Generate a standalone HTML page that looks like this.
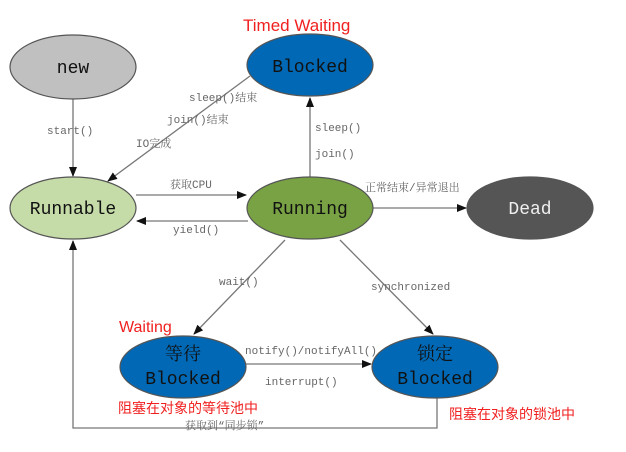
<!DOCTYPE html>
<html><head><meta charset="utf-8"><style>
html,body{margin:0;padding:0;background:#fff;}
svg{display:block;}
.lbl{font-family:"Liberation Mono","Noto Serif CJK SC",monospace;font-size:11px;fill:#666;}
.node{font-family:"Liberation Mono","Noto Serif CJK SC",monospace;font-size:18px;fill:#111;text-anchor:middle;}
.red{font-family:"Liberation Sans","Noto Sans CJK SC",sans-serif;fill:#f02020;}
</style></head><body>
<svg width="626" height="452" viewBox="0 0 626 452" xmlns="http://www.w3.org/2000/svg">
<defs><marker id="a" markerWidth="10" markerHeight="8" refX="9" refY="4" orient="auto" markerUnits="userSpaceOnUse"><path d="M0,0 L10,4 L0,8 z" fill="#111"/></marker></defs>
<g stroke="#777" stroke-width="1.3" fill="none">
<line x1="73" y1="99" x2="73" y2="176" marker-end="url(#a)"/>
<line x1="250" y1="76" x2="108" y2="181" marker-end="url(#a)"/>
<line x1="310" y1="177" x2="310" y2="98" marker-end="url(#a)"/>
<line x1="136" y1="195" x2="246" y2="195" marker-end="url(#a)"/>
<line x1="248" y1="221" x2="137" y2="221" marker-end="url(#a)"/>
<line x1="373" y1="208" x2="466" y2="208" marker-end="url(#a)"/>
<line x1="285" y1="240" x2="194" y2="334" marker-end="url(#a)"/>
<line x1="340" y1="240" x2="433" y2="334" marker-end="url(#a)"/>
<line x1="246" y1="364" x2="371" y2="364" marker-end="url(#a)"/>
<polyline points="437,398 437,428 73,428 73,241" marker-end="url(#a)"/>
</g>
<g stroke="#555" stroke-width="1.2">
<ellipse cx="73" cy="67" rx="63" ry="32" fill="#c0c0c0"/>
<ellipse cx="310" cy="65" rx="63" ry="31" fill="#0068b5"/>
<ellipse cx="73" cy="208" rx="63" ry="31" fill="#c5dba8"/>
<ellipse cx="310" cy="208" rx="63" ry="31" fill="#78a244"/>
<ellipse cx="530" cy="208" rx="63" ry="31" fill="#555"/>
<ellipse cx="183" cy="367" rx="63" ry="31" fill="#0068b5"/>
<ellipse cx="435" cy="367" rx="63" ry="31" fill="#0068b5"/>
</g>
<text class="node" x="73" y="73">new</text>
<text class="node" x="310" y="72">Blocked</text>
<text class="node" x="73" y="214">Runnable</text>
<text class="node" x="310" y="214">Running</text>
<text class="node" x="530" y="214" style="fill:#eee">Dead</text>
<text class="node" x="183" y="360">等待</text>
<text class="node" x="183" y="384">Blocked</text>
<text class="node" x="435" y="360">锁定</text>
<text class="node" x="435" y="384">Blocked</text>
<text class="lbl" x="47" y="134">start()</text>
<text class="lbl" x="189" y="101">sleep()结束</text>
<text class="lbl" x="167" y="123">join()结束</text>
<text class="lbl" x="136" y="147">IO完成</text>
<text class="lbl" x="315" y="131">sleep()</text>
<text class="lbl" x="315" y="157">join()</text>
<text class="lbl" x="170" y="188">获取CPU</text>
<text class="lbl" x="173" y="233">yield()</text>
<text class="lbl" x="365" y="191">正常结束/异常退出</text>
<text class="lbl" x="219" y="285">wait()</text>
<text class="lbl" x="371" y="290">synchronized</text>
<text class="lbl" x="245" y="354">notify()/notifyAll()</text>
<text class="lbl" x="265" y="385">interrupt()</text>
<text class="lbl" x="185" y="429">获取到“同步锁”</text>
<text class="red" x="243" y="31" font-size="17">Timed Waiting</text>
<text class="red" x="119" y="332" font-size="16">Waiting</text>
<text class="red" x="118" y="413" font-size="14">阻塞在对象的等待池中</text>
<text class="red" x="449" y="419" font-size="14">阻塞在对象的锁池中</text>
</svg>
</body></html>
